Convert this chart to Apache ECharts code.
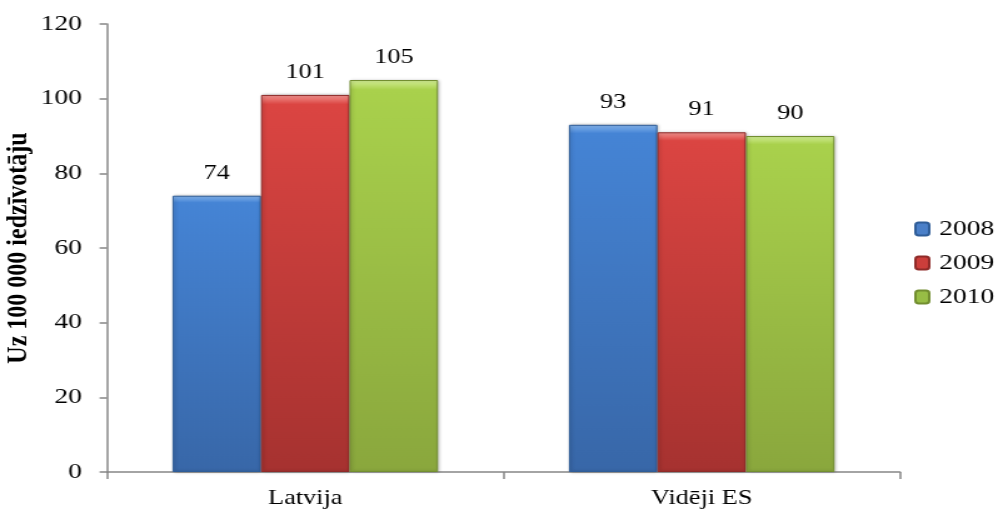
<!DOCTYPE html>
<html>
<head>
<meta charset="utf-8">
<script src="https://cdn.jsdelivr.net/npm/echarts@6/dist/echarts.min.js"></script>
<style>
  html, body { margin: 0; padding: 0; background: #fff; overflow: hidden; }
  /* the chart is drawn slightly narrower and widened to 1003px, giving the wide type */
  #chart { width: 802px; height: 518px; transform-origin: 0 0; transform: scaleX(1.2506); }
</style>
</head>
<body>
<div id="chart"></div>
<script>
// Categories and yearly values
const categories = ['Latvija', 'Vidēji ES'];
const years = ['2008', '2009', '2010'];
const values2008 = [74, 93];
const values2009 = [101, 91];
const values2010 = [105, 90];
const yTicks = { min: 0, max: 120, interval: 20 };
const yTitle = 'Uz 100 000 iedzīvotāju';

const FONT = '"Liberation Serif", "DejaVu Serif", serif';

// Bevelled look: lighter top edge, darker towards the bottom
function fill(top, mid, bottom) {
  return new echarts.graphic.LinearGradient(0, 0, 0, 1, [
    { offset: 0, color: top },
    { offset: 0.025, color: mid },
    { offset: 1, color: bottom }
  ]);
}
const styles = [
  { color: fill('#86b6ee', '#4584d5', '#3867a8'), border: '#2f5d98', legend: '#4a7fc8' },
  { color: fill('#f39490', '#db4542', '#a63230'), border: '#8f2b29', legend: '#cc3e3b' },
  { color: fill('#d3ee96', '#a9d14c', '#8aa73d'), border: '#728e30', legend: '#97bd45' }
];
const seriesData = [values2008, values2009, values2010];

const chart = echarts.init(document.getElementById('chart'));
chart.setOption({
  animation: false,
  grid: { left: 85.6, right: 82.4, top: 24, bottom: 46, containLabel: false, outerBoundsMode: 'none' },
  legend: {
    orient: 'vertical',
    right: 2,
    top: 213,
    itemWidth: 11,
    itemHeight: 13,
    itemGap: 12,
    textStyle: { fontFamily: FONT, fontSize: 22, color: '#000', padding: [0, 0, 0, 3] },
    data: years.map((y, i) => ({ name: y, itemStyle: { color: styles[i].legend } }))
  },
  xAxis: {
    type: 'category',
    data: categories,
    axisLine: { lineStyle: { color: '#868686', width: 1.5 } },
    axisTick: { show: true, length: 7, lineStyle: { color: '#868686', width: 1.5 } },
    axisLabel: { fontFamily: FONT, fontSize: 21, color: '#000', margin: 16 }
  },
  yAxis: {
    type: 'value',
    min: yTicks.min, max: yTicks.max, interval: yTicks.interval,
    name: yTitle,
    nameLocation: 'middle',
    nameMoveOverlap: false,
    nameGap: 59,
    nameTextStyle: { fontFamily: FONT, fontSize: 24, fontWeight: 'bold', color: '#000' },
    axisLine: { show: true, lineStyle: { color: '#868686', width: 1.5 } },
    axisTick: { show: true, length: 6, lineStyle: { color: '#868686', width: 1.5 } },
    splitLine: { show: false },
    axisLabel: { fontFamily: FONT, fontSize: 22, color: '#000', margin: 20 }
  },
  series: years.map((y, i) => ({
    name: y,
    type: 'bar',
    data: seriesData[i],
    barGap: '0%',
    barCategoryGap: '33%',
    itemStyle: {
      color: styles[i].color,
      borderColor: styles[i].border,
      borderWidth: 1,
      shadowColor: 'rgba(0,0,0,0.25)',
      shadowBlur: 3,
      shadowOffsetX: 1
    },
    label: {
      show: true,
      position: 'top',
      distance: 12,
      fontFamily: FONT,
      fontSize: 21,
      color: '#000'
    }
  }))
});
</script>
</body>
</html>
